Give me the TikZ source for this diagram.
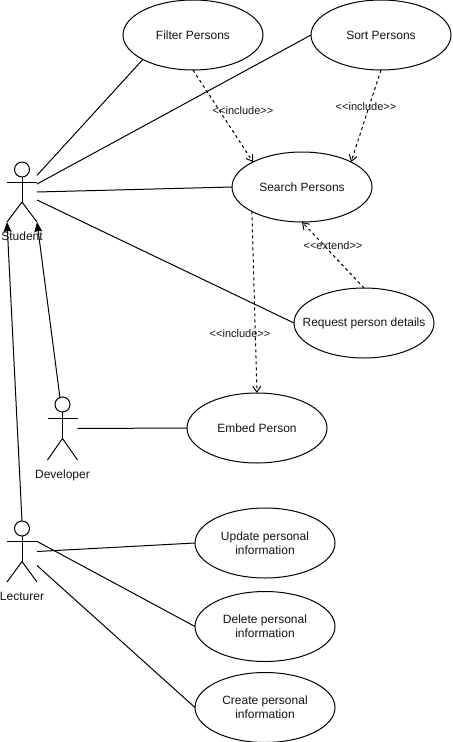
\documentclass[tikz,border=0pt]{standalone}
\usepackage{fontspec}
\setmainfont{Liberation Sans}
\usetikzlibrary{arrows.meta, positioning, calc, shapes.geometric}
\definecolor{umlink}{RGB}{20, 20, 20}

\begin{document}
\begin{tikzpicture}[
  x=0.75pt, y=-0.75pt,
  line width=0.75pt,
  usecase/.style={draw=black, ellipse, minimum width=105pt, minimum height=52.5pt, inner sep=0pt, outer sep=0pt, font=\fontsize{9}{10.5}\selectfont, text=umlink, align=center},
  actorbox/.style={minimum width=22.5pt, inner sep=0pt, outer sep=0pt},
  actorhead/.style={draw=black, circle, minimum size=11.25pt, inner sep=0pt, outer sep=0pt},
  actortext/.style={font=\fontsize{9}{10.5}\selectfont, text=umlink, inner sep=0pt},
  stereo/.style={font=\fontsize{8.25}{10}\selectfont, text=umlink, inner sep=0pt},
  assoc/.style={draw=black},
  dep/.style={-{Straight Barb[length=4.5pt, width=6pt]}, dash pattern=on 2.25pt off 2.25pt},
  gen/.style={-{Stealth[length=7.5pt, width=6pt, inset=1pt]}}
]
  \useasboundingbox (0,0) rectangle (453,742);

  % use cases
  \node[usecase] (filter) at (193,35) {Filter Persons};
  \node[usecase] (sort) at (381,35) {Sort Persons};
  \node[usecase] (search) at (302,187) {Search Persons};
  \node[usecase, inner xsep=-9pt] (details) at (364,323) {Request person details};
  \node[usecase] (embed) at (257,428) {Embed Person};
  \node[usecase] (update) at (265,543) {Update personal\\information};
  \node[usecase] (delete) at (265,626.5) {Delete personal\\information};
  \node[usecase] (create) at (265,707.5) {Create personal\\information};

  % actors
  \foreach \name/\x/\y/\hgt/\txt in {student/22/192/45/Student, developer/62.5/428.5/47.25/Developer, lecturer/22/551.5/45.75/Lecturer} {
    \node[actorbox, minimum height=\hgt pt] (\name) at (\x,\y) {};
    \node[actorhead, below=0pt of \name.north] (\name-head) {};
    \draw (\name-head.south) -- ($(\name.center)+(0,10)$);
    \draw ($(\name.west)+(0,-10)$) -- ($(\name.east)+(0,-10)$);
    \draw (\name.south west) -- ($(\name.center)+(0,10)$) -- (\name.south east);
    \node[actortext, below=7pt of \name.south] (\name-label) {\txt};
  }

  % student
  \draw[assoc] (student.48) -- (filter.206);
  \draw[assoc] (student.28) -- (sort.west);
  \draw[assoc] (student.east) -- (search.west);
  \draw[assoc] (student.-28) -- (details.west);

  % developer and lecturer
  \draw[assoc] (developer.east) -- (embed.west);
  \draw[assoc] (lecturer.east) -- (update.west);
  \draw[assoc] (lecturer.34) -- (delete.west);
  \draw[assoc] (lecturer.-43) -- (create.west);

  \draw[gen] (developer-head.110) -- (student.south east);
  \draw[gen] (lecturer-head.north) -- (student.south west);

  % include / extend
  \draw[dep] (filter.south) -- (search.153);
  \draw[dep] (sort.south) -- (search.27);
  \draw[dep] (search.206) -- (embed.north);
  \draw[dep] (details.north) -- (search.south);

  \node[stereo] (incfilter) at (243,111) {<{}<include>{}>};
  \node[stereo] (incsort) at (366,107) {<{}<include>{}>};
  \node[stereo] (incembed) at (240,334) {<{}<include>{}>};
  \node[stereo] (extdetails) at (333,246) {<{}<extend>{}>};
\end{tikzpicture}
\end{document}
